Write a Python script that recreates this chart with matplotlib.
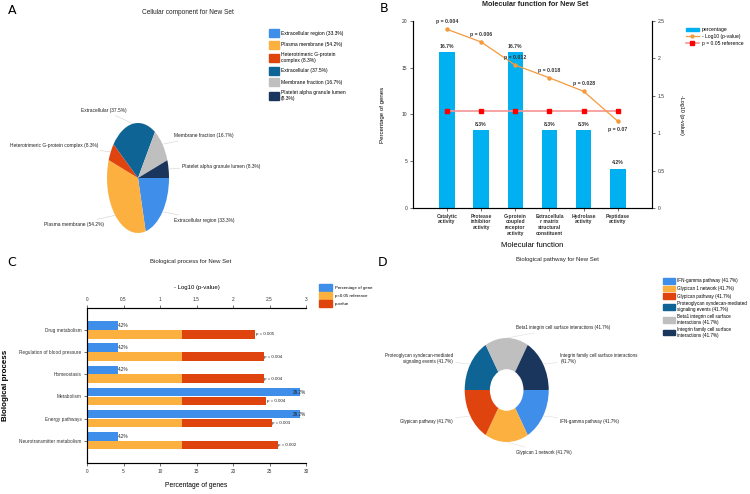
import matplotlib
matplotlib.use("Agg")
import matplotlib.pyplot as plt
from matplotlib.patches import Patch
from matplotlib.lines import Line2D
import numpy as np

plt.rcParams['font.family'] = ['Liberation Sans', 'DejaVu Sans']
plt.rcParams['axes.linewidth'] = 0.8

# colours shared by the pies
pie_colors = ['#3E8EEA', '#FBB040', '#E0440E', '#0E6494', '#BFBFBF', '#1B365D']

# A - cellular component
cc_labels = ['Extracellular region (33.3%)', 'Plasma membrane (54.2%)',
             'Heterotrimeric G-protein complex (8.3%)', 'Extracellular (37.5%)',
             'Membrane fraction (16.7%)', 'Platelet alpha granule lumen (8.3%)']
cc_legend = ['Extracellular region (33.3%)', 'Plasma membrane (54.2%)',
             'Heterotrimeric G-protein\ncomplex (8.3%)', 'Extracellular (37.5%)',
             'Membrane fraction (16.7%)', 'Platelet alpha granule lumen\n(8.3%)']
cc_values = [33.3, 54.2, 8.3, 37.5, 16.7, 8.3]

# B - molecular function
mf_cats = ['Catalytic\nactivity', 'Protease\ninhibitor\nactivity', 'G-protein\ncoupled\nreceptor\nactivity',
           'Extracellula\nr matrix\nstructural\nconstituent', 'Hydrolase\nactivity', 'Peptidase\nactivity']
mf_pct = [16.7, 8.3, 16.7, 8.3, 8.3, 4.2]
mf_logp = [2.39, 2.22, 1.91, 1.74, 1.56, 1.16]
mf_plabels = ['p = 0.004', 'p = 0.006', 'p = 0.012', 'p = 0.018', 'p = 0.028', 'p = 0.07']
mf_ref = [1.3] * 6

# C - biological process
bp_cats = ['Drug metabolism', 'Regulation of blood pressure', 'Homeostasis',
           'Metabolism', 'Energy pathways', 'Neurotransmitter metabolism']
bp_pct = [4.2, 4.2, 4.2, 29.2, 29.2, 4.2]
bp_logp = [2.30, 2.42, 2.42, 2.45, 2.53, 2.61]
bp_plabels = ['p = 0.005', 'p = 0.004', 'p = 0.004', 'p = 0.004', 'p = 0.003', 'p = 0.002']
bp_ref = [1.3] * 6

# D - biological pathway
pw_labels = ['IFN-gamma pathway (41.7%)', 'Glypican 1 network (41.7%)', 'Glypican pathway (41.7%)',
             'Proteoglycan syndecan-mediated\nsignaling events (41.7%)',
             'Beta1 integrin cell surface interactions (41.7%)',
             'Integrin family cell surface interactions\n(41.7%)']
pw_legend = ['IFN-gamma pathway (41.7%)', 'Glypican 1 network (41.7%)', 'Glypican pathway (41.7%)',
             'Proteoglycan syndecan-mediated\nsignaling events (41.7%)',
             'Beta1 integrin cell surface\ninteractions (41.7%)',
             'Integrin family cell surface\ninteractions (41.7%)']
pw_values = [41.7] * 6

W, H = 750, 494
fig = plt.figure(figsize=(7.5, 4.94), dpi=100)


def box(x0, y0, x1, y1):
    # pixel box (top-left origin) -> figure fraction rect
    return [x0 / W, (H - y1) / H, (x1 - x0) / W, (y1 - y0) / H]


tcol = '#222222'
gcol = '#333333'

# panel letters and titles
for letter, x, y in [('A', 8, 10), ('B', 380, 8), ('C', 7, 263), ('D', 378, 262)]:
    fig.text(x / W, 1 - y / H, letter, fontsize=9, va='center', ha='left', family='DejaVu Sans')
fig.text(188 / W, 1 - 13 / H, 'Cellular component for New Set', fontsize=4.7, ha='center', va='center', color=tcol)
fig.text(535 / W, 1 - 5 / H, 'Molecular function for New Set', fontsize=5.2, fontweight='bold', ha='center', va='center', color=tcol)
fig.text(191 / W, 1 - 261 / H, 'Biological process for New Set', fontsize=4.3, ha='center', va='center', color=tcol)
fig.text(557 / W, 1 - 260 / H, 'Biological pathway for New Set', fontsize=4.3, ha='center', va='center', color=tcol)

# ---------- A ----------
axA = fig.add_axes(box(107, 123, 169, 233))
wedges, _ = axA.pie(cc_values, colors=pie_colors, startangle=0, counterclock=False,
                    wedgeprops=dict(linewidth=0))
axA.set_aspect('auto')
axA.set_xlim(-1, 1)
axA.set_ylim(-1, 1)
for w, lab in zip(wedges, cc_labels):
    ang = np.deg2rad((w.theta1 + w.theta2) / 2)
    c, s = np.cos(ang), np.sin(ang)
    side = 1 if c >= 0 else -1
    axA.annotate(lab, xy=(c, s), xytext=(1.3 * c + side * 0.15, 1.25 * s),
                 ha='left' if side > 0 else 'right', va='center', fontsize=3.5, color=tcol,
                 annotation_clip=False,
                 arrowprops=dict(arrowstyle='-', color='#d0d0d0', lw=0.4, shrinkA=0, shrinkB=0))
fig.legend([Patch(color=c) for c in pie_colors], cc_legend, loc='upper left',
           bbox_to_anchor=(264 / W, 1 - 25 / H), frameon=False, fontsize=3.6,
           handlelength=2.0, handleheight=2.0, labelspacing=0.75, handletextpad=0.5)

# ---------- B ----------
axB = fig.add_axes(box(412.7, 21, 652, 208))
xb = np.arange(len(mf_cats))
axB.bar(xb, mf_pct, width=0.45, color='#00B0F0')
axB.set_xlim(-1, len(mf_cats))
axB.set_ylim(0, 20)
axB.set_yticks([0, 5, 10, 15, 20])
axB.set_xticks(xb)
axB.set_xticklabels(mf_cats, fontsize=3.8, fontweight='bold', color=gcol, linespacing=1.2)
axB.tick_params(labelsize=3.6, length=2, width=0.5, pad=2, colors=gcol)
axB.spines['top'].set_visible(False)
for sp in ['left', 'right', 'bottom']:
    axB.spines[sp].set_color('#555555')
for xi, v in zip(xb, mf_pct):
    axB.text(xi, v + 0.35, f'{v}%', ha='center', va='bottom', fontsize=3.7, fontweight='bold', color=gcol)
axB.set_ylabel('Percentage of genes', fontsize=4.4, labelpad=12)
axB.set_xlabel('Molecular function', fontsize=5.5, labelpad=4)

axB2 = axB.twinx()
axB2.set_ylim(0, 2.5)
axB2.set_yticks([0, 0.5, 1, 1.5, 2, 2.5])
axB2.set_yticklabels(['0', '0.5', '1', '1.5', '2', '2.5'])
axB2.plot(xb, mf_ref, color='#F79494', lw=1.2, marker='s', ms=2.5, mfc='#FF0000', mec='#FF0000')
axB2.plot(xb, mf_logp, color='#F59A3C', lw=0.9, marker='o', ms=2.2)
axB2.tick_params(labelsize=3.6, length=2, width=0.5, pad=2, colors=gcol)
axB2.spines['top'].set_visible(False)
axB2.set_ylabel('-Log10 (p-value)', fontsize=3.9, rotation=270, labelpad=14)
for i, (xi, v, lab) in enumerate(zip(xb, mf_logp, mf_plabels)):
    if i == len(xb) - 1:
        axB2.text(xi, v - 0.08, lab, ha='center', va='top', fontsize=3.7, fontweight='bold', color=gcol)
    else:
        axB2.text(xi, v + 0.07, lab, ha='center', va='bottom', fontsize=3.7, fontweight='bold', color=gcol)
fig.legend([Patch(color='#00B0F0'),
            Line2D([], [], color='#F59A3C', lw=0.9, marker='o', ms=2),
            Line2D([], [], color='#F79494', lw=1.2, marker='s', ms=2.5, mfc='#FF0000', mec='#FF0000')],
           ['percentage', '- Log10 (p-value)', 'p = 0.05 reference'], loc='upper left',
           bbox_to_anchor=(681 / W, 1 - 23 / H), frameon=False, fontsize=3.6,
           handlelength=2.6, labelspacing=0.3, handletextpad=0.6)

# ---------- C ----------
axC = fig.add_axes(box(87, 307.7, 306, 463))
yc = np.arange(len(bp_cats))
axC.barh(yc - 0.2, bp_pct, height=0.38, color='#3E8EEA')
axC.set_xlim(0, 30)
axC.set_xticks([0, 5, 10, 15, 20, 25, 30])
axC.set_ylim(len(bp_cats), -1)
axC.set_yticks(yc)
axC.set_yticklabels(bp_cats)
axC.tick_params(labelsize=3.4, length=2, width=0.5, pad=2, colors=gcol)
axC.spines['right'].set_visible(False)
for sp in ['left', 'top', 'bottom']:
    axC.spines[sp].set_color('#555555')
axC.set_xlabel('Percentage of genes', fontsize=4.9, labelpad=6)
axC.set_ylabel('Biological process', fontsize=5.8, fontweight='bold', labelpad=7)
for yi, v in zip(yc, bp_pct):
    axC.text(v - (1 if v > 25 else 0), yi - 0.2, f'{v}%', ha='left', va='center', fontsize=3.3, color=tcol)

axC2 = axC.twiny()
axC2.set_xlim(0, 3)
axC2.set_xticks([0, 0.5, 1, 1.5, 2, 2.5, 3])
axC2.set_xticklabels(['0', '0.5', '1', '1.5', '2', '2.5', '3'])
axC2.barh(yc + 0.2, bp_ref, height=0.38, color='#FBB040')
axC2.barh(yc + 0.2, np.array(bp_logp) - np.array(bp_ref), left=bp_ref, height=0.38, color='#E0440E')
axC2.tick_params(labelsize=3.4, length=2, width=0.5, pad=2, colors=gcol)
axC2.spines['right'].set_visible(False)
axC2.set_xlabel('- Log10 (p-value)', fontsize=4.3, labelpad=6)
for yi, v, lab in zip(yc, bp_logp, bp_plabels):
    axC2.text(v + 0.01, yi + 0.2, lab, ha='left', va='center', fontsize=3.2, color=tcol)
fig.legend([Patch(color='#3E8EEA'), Patch(color='#FBB040'), Patch(color='#E0440E')],
           ['Percentage of gene', 'p<0.05 reference', 'p-value'], loc='upper left',
           bbox_to_anchor=(315 / W, 1 - 280 / H), frameon=False, fontsize=3.2,
           handlelength=3.0, handleheight=1.9, labelspacing=0.35, handletextpad=0.5)

# ---------- D ----------
axD = fig.add_axes(box(464.7, 338, 548.7, 442))
wedgesD, _ = axD.pie(pw_values, colors=pie_colors, startangle=0, counterclock=False,
                     wedgeprops=dict(width=0.6, linewidth=0))
axD.set_aspect('auto')
axD.set_xlim(-1, 1)
axD.set_ylim(-1, 1)
for w, lab in zip(wedgesD, pw_labels):
    ang = np.deg2rad((w.theta1 + w.theta2) / 2)
    c, s = np.cos(ang), np.sin(ang)
    if abs(c) < 0.1:
        xt, ha = 0.22, 'left'
    else:
        xt, ha = np.sign(c) * 1.28, ('left' if c > 0 else 'right')
    axD.annotate(lab, xy=(c, s), xytext=(xt, 1.2 * s), ha=ha, va='center', fontsize=3.25,
                 color=tcol, annotation_clip=False, multialignment=ha,
                 arrowprops=dict(arrowstyle='-', color='#dddddd', lw=0.4, shrinkA=0, shrinkB=0))
fig.legend([Patch(color=c) for c in pie_colors], pw_legend, loc='upper left',
           bbox_to_anchor=(659 / W, 1 - 274 / H), frameon=False, fontsize=3.3,
           handlelength=2.6, handleheight=1.5, labelspacing=0.45, handletextpad=0.5)

fig.savefig('out.png', dpi=100)
